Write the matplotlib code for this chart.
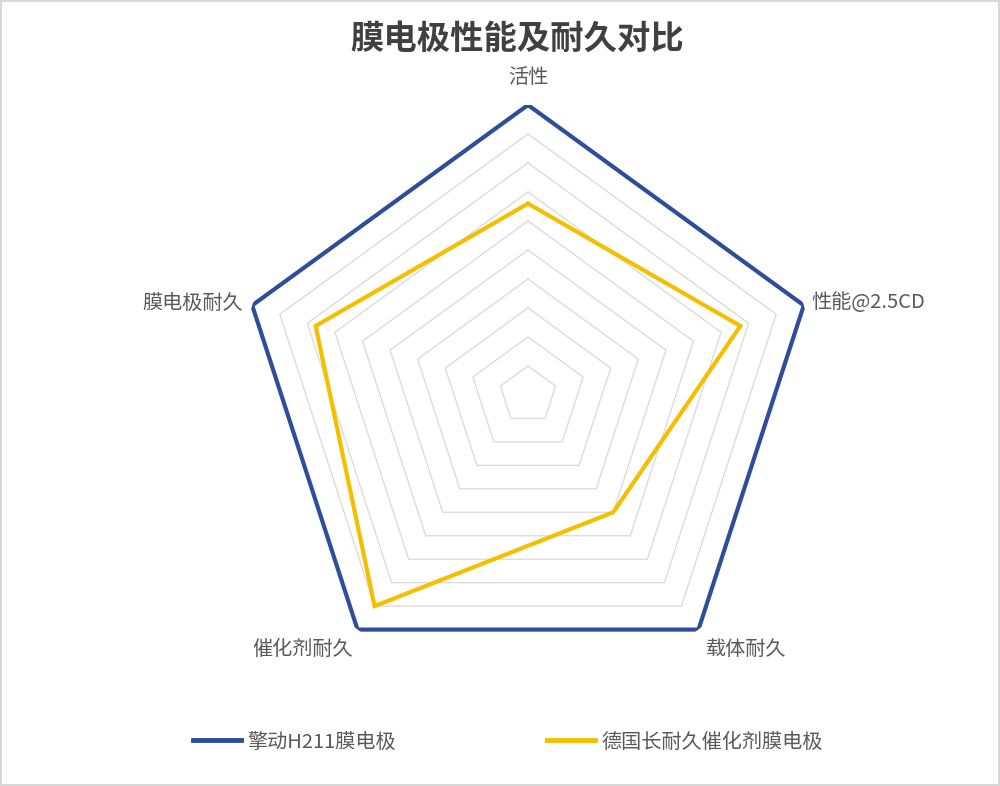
import numpy as np
import matplotlib
matplotlib.use('Agg')
import matplotlib.pyplot as plt
from matplotlib.lines import Line2D

plt.rcParams['font.family'] = ['Noto Sans CJK SC', 'DejaVu Sans']

# data
categories = ['活性', '性能@2.5CD', '载体耐久', '催化剂耐久', '膜电极耐久']
series_names = ['擎动H211膜电极', '德国长耐久催化剂膜电极']
h211_values = [10, 10, 10, 10, 10]
german_values = [6.6, 7.7, 5.0, 9.0, 7.7]
grid_levels = [1, 2, 3, 4, 5, 6, 7, 8, 9, 10]

blue = '#2E4D9B'
yellow = '#F5BF00'
grid_color = '#DCDCDC'
text_color = '#595959'

fig = plt.figure(figsize=(10, 7.86), dpi=100, edgecolor='#D9D9D9', linewidth=1.5)
ax = fig.add_axes([0.238, 0.1285, 0.58, 0.738], projection='polar')
ax.set_theta_offset(np.pi / 2)
ax.set_theta_direction(-1)
ax.set_ylim(0, 10)
ax.grid(False)
ax.spines['polar'].set_visible(False)
ax.set_xticks([])
ax.set_yticks([])
ax.patch.set_alpha(0)

n = len(categories)
angles = np.linspace(0, 2 * np.pi, n, endpoint=False)
angles_closed = np.append(angles, angles[0])

# pentagon gridlines
for lvl in grid_levels:
    ax.plot(angles_closed, [lvl] * (n + 1), color=grid_color, lw=1, zorder=1)

# series
g = german_values + german_values[:1]
h = h211_values + h211_values[:1]
ax.plot(angles_closed, g, color=yellow, lw=3, zorder=3, solid_joinstyle='miter')
ax.plot(angles_closed, h, color=blue, lw=3, zorder=4, solid_joinstyle='miter')

# category labels
label_offsets = [(0, 27), (8, 3), (7, -20), (-5, -20), (-9, 2)]
label_ha = ['center', 'left', 'left', 'right', 'right']
for ang, lab, off, ha in zip(angles, categories, label_offsets, label_ha):
    ax.annotate(lab, xy=(ang, 10), xytext=off, textcoords='offset pixels',
                ha=ha, va='center', fontsize=14.5, color=text_color,
                annotation_clip=False)

# title
fig.text(0.517, 1 - 39 / 786, '膜电极性能及耐久对比', ha='center', va='center',
         fontsize=24, fontweight='bold', color='#404040')

# legend
handles = [Line2D([], [], color=blue, lw=3.5),
           Line2D([], [], color=yellow, lw=3.5)]
leg = fig.legend(handles, series_names, loc='center', bbox_to_anchor=(0.508, 1 - 742 / 786),
                 ncol=2, frameon=False, fontsize=14.5, handlelength=2.4,
                 columnspacing=7.5, handletextpad=0.3)
for t in leg.get_texts():
    t.set_color(text_color)

fig.savefig('out.png', dpi=100, edgecolor=fig.get_edgecolor())
